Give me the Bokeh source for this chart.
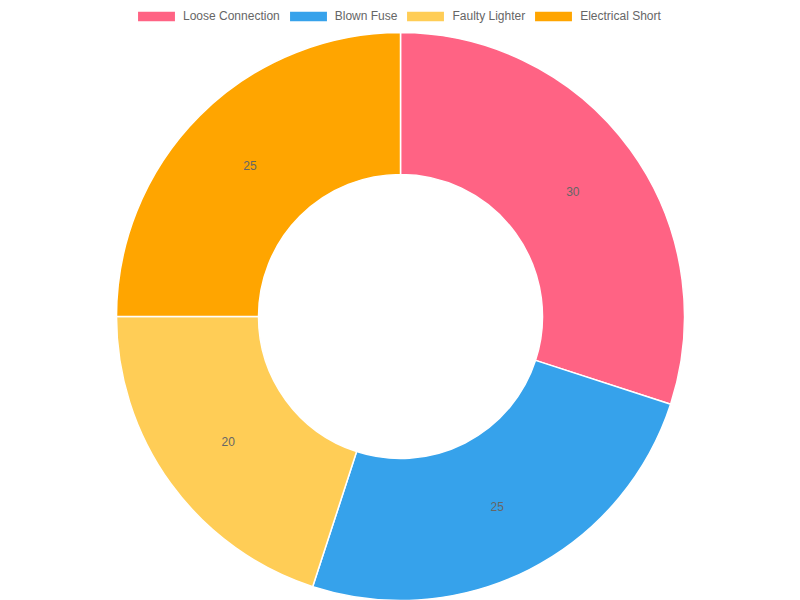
import math
from bokeh.plotting import figure
from bokeh.models import Range1d, ColumnDataSource, Legend, LegendItem
from bokeh.embed import file_html
from bokeh.resources import INLINE
from bokeh.core.properties import value

categories = ["Loose Connection", "Blown Fuse", "Faulty Lighter", "Electrical Short"]
values = [30, 25, 20, 25]
colors = ["#ff6384", "#36a2eb", "#ffcd56", "#ffa500"]

W, H = 800, 600
cx, cy = 400, H - 316
r_out, r_in = 284, 142

total = float(sum(values))
starts, ends, lx, ly, labels = [], [], [], [], []
acc = 0.0
for v in values:
    a0 = math.pi / 2 - acc / total * 2 * math.pi
    acc += v
    a1 = math.pi / 2 - acc / total * 2 * math.pi
    starts.append(a0)
    ends.append(a1)
    mid = (a0 + a1) / 2
    rm = (r_in + r_out) / 2
    lx.append(cx + rm * math.cos(mid))
    ly.append(cy + rm * math.sin(mid))
    labels.append(str(v))

src = ColumnDataSource(dict(cat=categories, val=values, color=colors,
                            start=starts, end=ends, lx=lx, ly=ly, label=labels))

p = figure(width=W, height=H, output_backend="svg", toolbar_location=None,
           x_range=Range1d(0, W), y_range=Range1d(0, H),
           min_border=0, outline_line_color=None)
p.axis.visible = False
p.grid.visible = False
p.background_fill_color = "white"
p.border_fill_color = "white"

r = p.annular_wedge(x=cx, y=cy, inner_radius=r_in, outer_radius=r_out,
                    start_angle="start", end_angle="end", direction="clock",
                    fill_color="color", line_color="white", line_width=1.5,
                    source=src)

p.text(x="lx", y="ly", text="label", source=src, text_align="center",
       text_baseline="middle", text_font=value("Liberation Sans"),
       text_font_size="12px", text_color="#666666")

items = [LegendItem(label=c, renderers=[r], index=i) for i, c in enumerate(categories)]
legend = Legend(items=items, orientation="horizontal", location=(132, 574),
                glyph_width=48, glyph_height=14, label_standoff=3, spacing=4,
                padding=0, margin=0, border_line_alpha=0, background_fill_alpha=0,
                label_text_font="Liberation Sans", label_text_font_size="12px",
                label_text_color="#666666", label_height=20)
p.add_layout(legend, "center")

open("out.html", "w").write(file_html(p, INLINE))
